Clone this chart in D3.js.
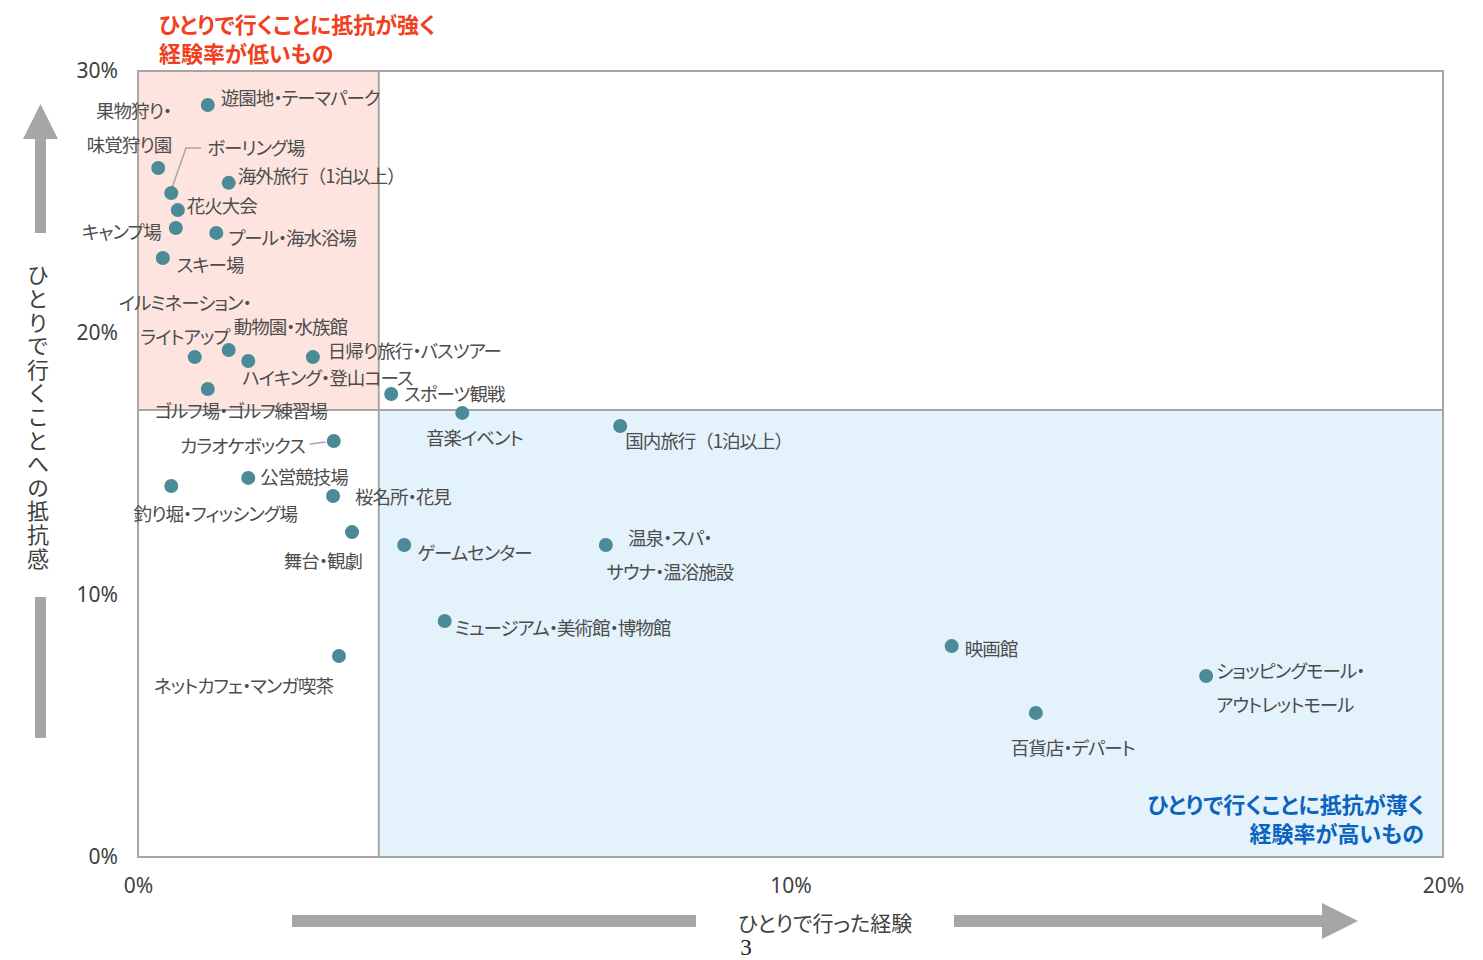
<!DOCTYPE html>
<html>
<head>
<meta charset="utf-8">
<script src="https://cdn.jsdelivr.net/npm/d3@7"></script>
<style>
  body { margin: 0; background: #fff; }
  svg text { font-family: "Noto Sans CJK JP", "Noto Sans", sans-serif; font-feature-settings: "palt"; }
</style>
</head>
<body>
<svg id="chart"></svg>
<script>
const width = 1483, height = 960

// カテゴリ（\n は改行）
const places = [
    "遊園地・テーマパーク", "果物狩り・\n味覚狩り園", "ボーリング場", "海外旅行（1泊以上）",
    "花火大会", "キャンプ場", "プール・海水浴場", "スキー場",
    "イルミネーション・\nライトアップ", "動物園・水族館", "ハイキング・登山コース", "日帰り旅行・バスツアー",
    "ゴルフ場・ゴルフ練習場", "スポーツ観戦", "音楽イベント", "国内旅行（1泊以上）",
    "カラオケボックス", "公営競技場", "釣り堀・フィッシング場", "桜名所・花見",
    "舞台・観劇", "ゲームセンター", "温泉・スパ・\nサウナ・温浴施設", "ミュージアム・美術館・博物館",
    "ネットカフェ・マンガ喫茶", "映画館", "ショッピングモール・\nアウトレットモール", "百貨店・デパート"
]
// ひとりで行った経験 (%)
const experience = [
    1.07, 0.31, 0.51, 1.39,
    0.61, 0.58, 1.20, 0.38,
    0.87, 1.39, 1.69, 2.68,
    1.07, 3.88, 4.97, 7.39,
    3.00, 1.69, 0.51, 2.99,
    3.28, 4.08, 7.17, 4.70,
    3.08, 12.47, 16.37, 13.76
]
// ひとりで行くことへの抵抗感 (%)
const resistance = [
    28.70, 26.30, 25.34, 25.73,
    24.69, 24.01, 23.82, 22.86,
    19.08, 19.35, 18.93, 19.08,
    17.86, 17.67, 16.95, 16.45,
    15.88, 14.47, 14.16, 13.78,
    12.40, 11.91, 11.91, 9.01,
    7.67, 8.05, 6.91, 5.50
]
// 平均線（象限の境界）
const avgExperience = 3.69
const avgResistance = 17.06

const xTicks = [0, 10, 20]
const yTicks = [0, 10, 20, 30]

// ラベル配置 [anchor, dx, dy(1行目中心)] — 表示用
const labelPlace = [
    ["start", 13, -8], ["end", 13, -58], ["start", 36, -46], ["start", 9, -8],
    ["start", 9, -5], ["end", -15, 3], ["start", 12, 4], ["start", 14, 6],
    ["middle", -10, -55], ["start", 5, -24], ["start", -6, 16], ["start", 15, -7],
    ["middle", 33, 21], ["start", 13, -1], ["middle", 12, 24], ["start", 5, 14],
    ["end", -29, 4], ["start", 12, -2], ["middle", 44, 27], ["start", 22, 0],
    ["end", 10, 28], ["start", 13, 7], ["middle", 64, -8], ["start", 10, 6],
    ["end", -6, 29], ["start", 13, 2], ["start", 10, -6], ["middle", 37, 34]
]

const data = places.map((p, i) => ({
    name: p, x: experience[i], y: resistance[i],
    anchor: labelPlace[i][0], dx: labelPlace[i][1], dy: labelPlace[i][2]
}))

const svg = d3.select("#chart").attr("width", width).attr("height", height)

const x = d3.scaleLinear().domain([0, 20]).range([138, 1443])
const y = d3.scaleLinear().domain([0, 30]).range([857, 71])

const grey = "#a6a6a6"
const textCol = "#404040"

// 象限の塗り
svg.append("rect")
    .attr("x", x(0)).attr("y", y(30))
    .attr("width", x(avgExperience) - x(0)).attr("height", y(avgResistance) - y(30))
    .attr("fill", "#fde4de")
svg.append("rect")
    .attr("x", x(avgExperience)).attr("y", y(avgResistance))
    .attr("width", x(20) - x(avgExperience)).attr("height", y(0) - y(avgResistance))
    .attr("fill", "#e4f2fc")

// 枠と境界線
svg.append("rect")
    .attr("x", x(0)).attr("y", y(30))
    .attr("width", x(20) - x(0)).attr("height", y(0) - y(30))
    .attr("fill", "none").attr("stroke", grey).attr("stroke-width", 2)
svg.append("line")
    .attr("x1", x(avgExperience)).attr("x2", x(avgExperience))
    .attr("y1", y(30)).attr("y2", y(0))
    .attr("stroke", grey).attr("stroke-width", 2)
svg.append("line")
    .attr("x1", x(0)).attr("x2", x(20))
    .attr("y1", y(avgResistance)).attr("y2", y(avgResistance))
    .attr("stroke", grey).attr("stroke-width", 2)

// 軸
const yAxis = svg.append("g")
    .attr("transform", `translate(${x(0)},0)`)
    .call(d3.axisLeft(y).tickValues(yTicks).tickFormat(d => d + "%").tickSize(0).tickPadding(20))
const xAxis = svg.append("g")
    .attr("transform", `translate(0,${y(0)})`)
    .call(d3.axisBottom(x).tickValues(xTicks).tickFormat(d => d + "%").tickSize(0).tickPadding(21))
for (const g of [yAxis, xAxis]) {
    g.select(".domain").remove()
    g.selectAll("text").attr("font-size", 21).attr("fill", textCol)
        .style("font-family", "'Noto Sans', 'DejaVu Sans', sans-serif")
}

// 引き出し線
svg.append("polyline")
    .attr("points", [[x(experience[2]), y(resistance[2]) - 3], [186, y(resistance[2]) - 45], [201, y(resistance[2]) - 45]].join(" "))
    .attr("fill", "none").attr("stroke", grey).attr("stroke-width", 1.5)
svg.append("line")
    .attr("x1", x(experience[16]) - 24).attr("x2", x(experience[16]) - 8)
    .attr("y1", y(resistance[16]) + 3).attr("y2", y(resistance[16]) + 1)
    .attr("stroke", grey).attr("stroke-width", 1.5)

// 点
svg.append("g").selectAll("circle")
    .data(data)
    .enter()
    .append("circle")
    .attr("cx", d => x(d.x))
    .attr("cy", d => y(d.y))
    .attr("r", 7)
    .attr("fill", "#4a8b97")

// ラベル
const labels = svg.append("g")
    .attr("font-size", 18.5)
    .attr("fill", "#4d4d4d")
    .style("letter-spacing", "-1px")
    .selectAll("text")
    .data(data)
    .enter()
    .append("text")
    .attr("text-anchor", d => d.anchor)
    .style("font-feature-settings", d => d.name.includes("（") ? "normal" : null)
labels.each(function (d) {
    const lines = d.name.split("\n")
    d3.select(this).selectAll("tspan")
        .data(lines)
        .enter()
        .append("tspan")
        .attr("x", x(d.x) + d.dx)
        .attr("y", (l, j) => y(d.y) + d.dy + j * 34)
        .attr("dominant-baseline", "central")
        .text(l => l)
})

// 象限の説明
const redNote = ["ひとりで行くことに抵抗が強く", "経験率が低いもの"]
svg.append("g").selectAll("text")
    .data(redNote)
    .enter()
    .append("text")
    .attr("x", 159)
    .attr("y", (d, i) => 23 + i * 29)
    .attr("dominant-baseline", "central")
    .attr("font-size", 22).attr("font-weight", "bold")
    .attr("fill", "#f0401e")
    .text(d => d)

const blueNote = ["ひとりで行くことに抵抗が薄く", "経験率が高いもの"]
svg.append("g").selectAll("text")
    .data(blueNote)
    .enter()
    .append("text")
    .attr("x", 1424)
    .attr("y", (d, i) => 803 + i * 29)
    .attr("text-anchor", "end")
    .attr("dominant-baseline", "central")
    .attr("font-size", 22).attr("font-weight", "bold")
    .attr("fill", "#0a64bd")
    .text(d => d)

// y 軸タイトルと矢印
svg.append("text")
    .attr("x", 38).attr("y", 264)
    .attr("font-size", 22)
    .attr("fill", textCol)
    .style("writing-mode", "vertical-rl")
    .style("letter-spacing", "1.6px")
    .style("font-feature-settings", "normal")
    .text("ひとりで行くことへの抵抗感")
svg.append("rect").attr("x", 35).attr("y", 136).attr("width", 11).attr("height", 97).attr("fill", grey)
svg.append("polygon").attr("points", "23,139 58,139 40.5,104").attr("fill", grey)
svg.append("rect").attr("x", 35).attr("y", 597).attr("width", 11).attr("height", 141).attr("fill", grey)

// x 軸タイトルと矢印
svg.append("rect").attr("x", 292).attr("y", 915).attr("width", 404).attr("height", 12).attr("fill", grey)
svg.append("rect").attr("x", 954).attr("y", 915).attr("width", 372).attr("height", 12).attr("fill", grey)
svg.append("polygon").attr("points", "1322,903 1322,939 1358,921").attr("fill", grey)
svg.append("text")
    .attr("x", 825).attr("y", 922)
    .attr("text-anchor", "middle").attr("dominant-baseline", "central")
    .attr("font-size", 21).attr("fill", textCol)
    .text("ひとりで行った経験")
svg.append("text")
    .attr("x", 746).attr("y", 947)
    .attr("text-anchor", "middle").attr("dominant-baseline", "central")
    .attr("font-size", 23).attr("fill", "#222")
    .style("font-family", "'Liberation Serif', serif")
    .text("3")
</script>
</body>
</html>
